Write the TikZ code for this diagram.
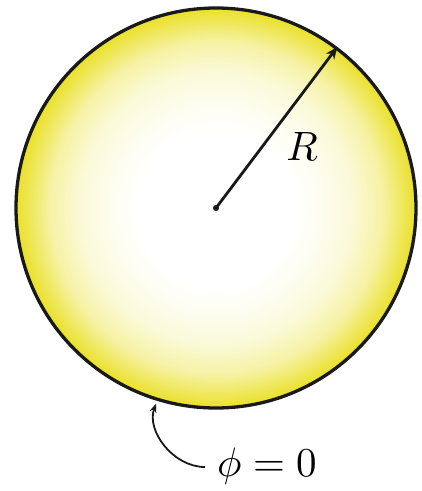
\documentclass[tikz,border=0pt]{standalone}
\usetikzlibrary{arrows.meta}
\definecolor{sunedge}{RGB}{234,224,40}
\colorlet{sunA}{sunedge!5!white}
\colorlet{sunB}{sunedge!18!white}
\colorlet{sunC}{sunedge!42!white}
\pgfdeclareradialshading{sunshade}{\pgfpoint{0bp}{0bp}}{%
  color(0bp)=(white); color(9.5bp)=(white); color(12.5bp)=(sunA);
  color(17bp)=(sunB); color(20.75bp)=(sunC); color(25bp)=(sunedge); color(50bp)=(sunedge)}
\begin{document}
\begin{tikzpicture}[x=1pt,y=-1pt,
  lbl/.style={scale=4.1, inner sep=0pt},
  arr/.style={line width=2.8pt, -{Stealth[length=12pt,width=10pt]}, draw=black!90},
  arrthin/.style={line width=1.8pt, -{Stealth[length=9pt,width=7pt]}, draw=black!90}]
\useasboundingbox (0,0) rectangle (422,491);
\node[circle, minimum size=400pt, inner sep=0pt, draw=black!90, line width=3.3pt, shading=sunshade] (sun) at (216,208) {};
\fill[black!90] (sun.center) circle (3pt);
\draw[arr] (sun.center) -- (sun.53.8);
\node[lbl] (R) at (302,146) {$R$};
\node[lbl] (phi) at (267,466) {$\phi = 0$};
\coordinate (phistart) at (205,467);
\draw[arrthin, shorten >=3pt] (phistart) to[out=180,in=-110] (sun.253.5);
\end{tikzpicture}
\end{document}
